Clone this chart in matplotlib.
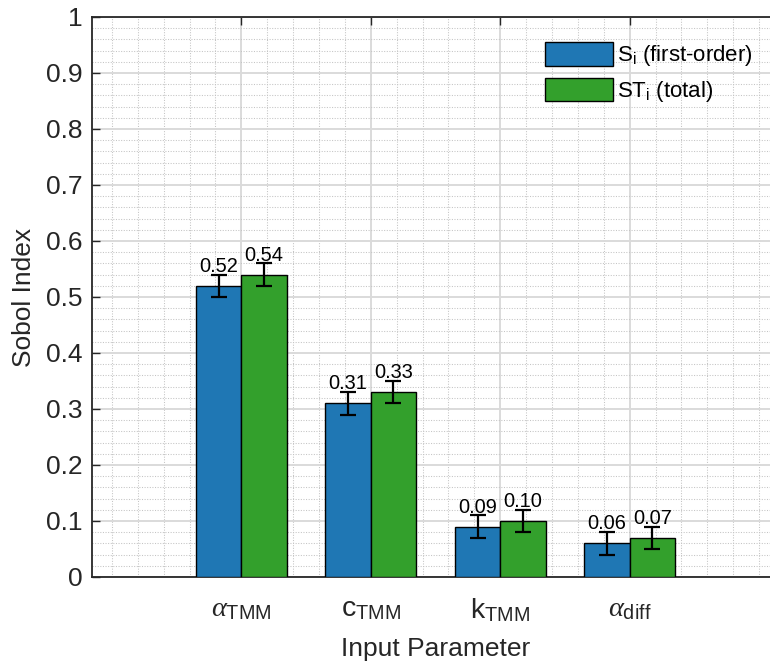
import numpy as np
import matplotlib.pyplot as plt
from matplotlib.ticker import MultipleLocator, FuncFormatter

# Sobol sensitivity indices per input parameter
params = [r'$\alpha_{\mathrm{TMM}}$', r'c$_{\mathrm{TMM}}$',
          r'k$_{\mathrm{TMM}}$', r'$\alpha_{\mathrm{diff}}$']
s_first = [0.52, 0.31, 0.09, 0.06]
s_total = [0.54, 0.33, 0.10, 0.07]
err_first = [0.02, 0.02, 0.02, 0.02]
err_total = [0.02, 0.02, 0.02, 0.02]

plt.rcParams['font.family'] = ['Liberation Sans', 'DejaVu Sans']
plt.rcParams['mathtext.fontset'] = 'custom'
plt.rcParams['mathtext.rm'] = 'Liberation Sans'
plt.rcParams['mathtext.it'] = 'Liberation Serif:italic'
plt.rcParams['mathtext.bf'] = 'Liberation Sans:bold'

dark = '#262626'
blue = '#1f77b4'
green = '#33a02c'

fig = plt.figure(figsize=(7.7, 6.61), dpi=100)
ax = fig.add_axes([92 / 770, 84 / 661, 687 / 770, 560 / 661])

x = np.arange(1, len(params) + 1)
w = 0.35

ax.bar(x - w / 2, s_first, w, color=blue, edgecolor='black', linewidth=1,
       label=r'S$_{\mathrm{i}}$ (first-order)', zorder=3)
ax.bar(x + w / 2, s_total, w, color=green, edgecolor='black', linewidth=1,
       label=r'ST$_{\mathrm{i}}$ (total)', zorder=3)
ax.errorbar(x - w / 2, s_first, yerr=err_first, fmt='none', ecolor='black',
            elinewidth=1.6, capsize=5.5, capthick=1.6, zorder=4)
ax.errorbar(x + w / 2, s_total, yerr=err_total, fmt='none', ecolor='black',
            elinewidth=1.6, capsize=5.5, capthick=1.6, zorder=4)

# value labels just above the error bars
for xs, vals, errs in [(x - w / 2, s_first, err_first), (x + w / 2, s_total, err_total)]:
    for xi, v, e in zip(xs, vals, errs):
        ax.annotate(f'{v:.2f}', (xi, v + e), xytext=(0, 2), textcoords='offset points',
                    ha='center', va='baseline', fontsize=14.4, color='black', zorder=5)

ax.set_xlim(-0.154, 5.154)
ax.set_ylim(0, 1)
ax.set_xticks(x)
ax.set_xticklabels(params)
ax.yaxis.set_major_locator(MultipleLocator(0.1))
ax.yaxis.set_major_formatter(FuncFormatter(lambda v, p: f'{v:g}'))
ax.xaxis.set_minor_locator(MultipleLocator(0.2))
ax.yaxis.set_minor_locator(MultipleLocator(0.02))

ax.grid(which='major', color='#dadada', linewidth=1.4, zorder=0)
ax.grid(which='minor', color='#c4c4c4', linestyle=(0, (1, 1.5)), linewidth=0.75, zorder=0)
ax.set_axisbelow(True)

ax.tick_params(which='major', direction='in', length=5.5, width=1, color=dark,
               labelcolor=dark, labelsize=19, top=True, right=True, pad=7)
ax.tick_params(axis='x', which='major', labelsize=20.5, pad=14)
ax.tick_params(which='minor', length=0)
for sp in ax.spines.values():
    sp.set_color(dark)
    sp.set_linewidth(1.3)

ax.set_xlabel('Input Parameter', fontsize=19, color=dark, labelpad=9)
ax.set_ylabel('Sobol Index', fontsize=19, color=dark, labelpad=7)

ax.legend(loc='upper left', bbox_to_anchor=(545 / 770, 1 - 42 / 661),
          bbox_transform=fig.transFigure, frameon=False, fontsize=16,
          handlelength=3.06, handleheight=1.26, handletextpad=0.2,
          labelspacing=0.42, borderpad=0, borderaxespad=0)

fig.savefig('out.png', dpi=100, facecolor='white')
